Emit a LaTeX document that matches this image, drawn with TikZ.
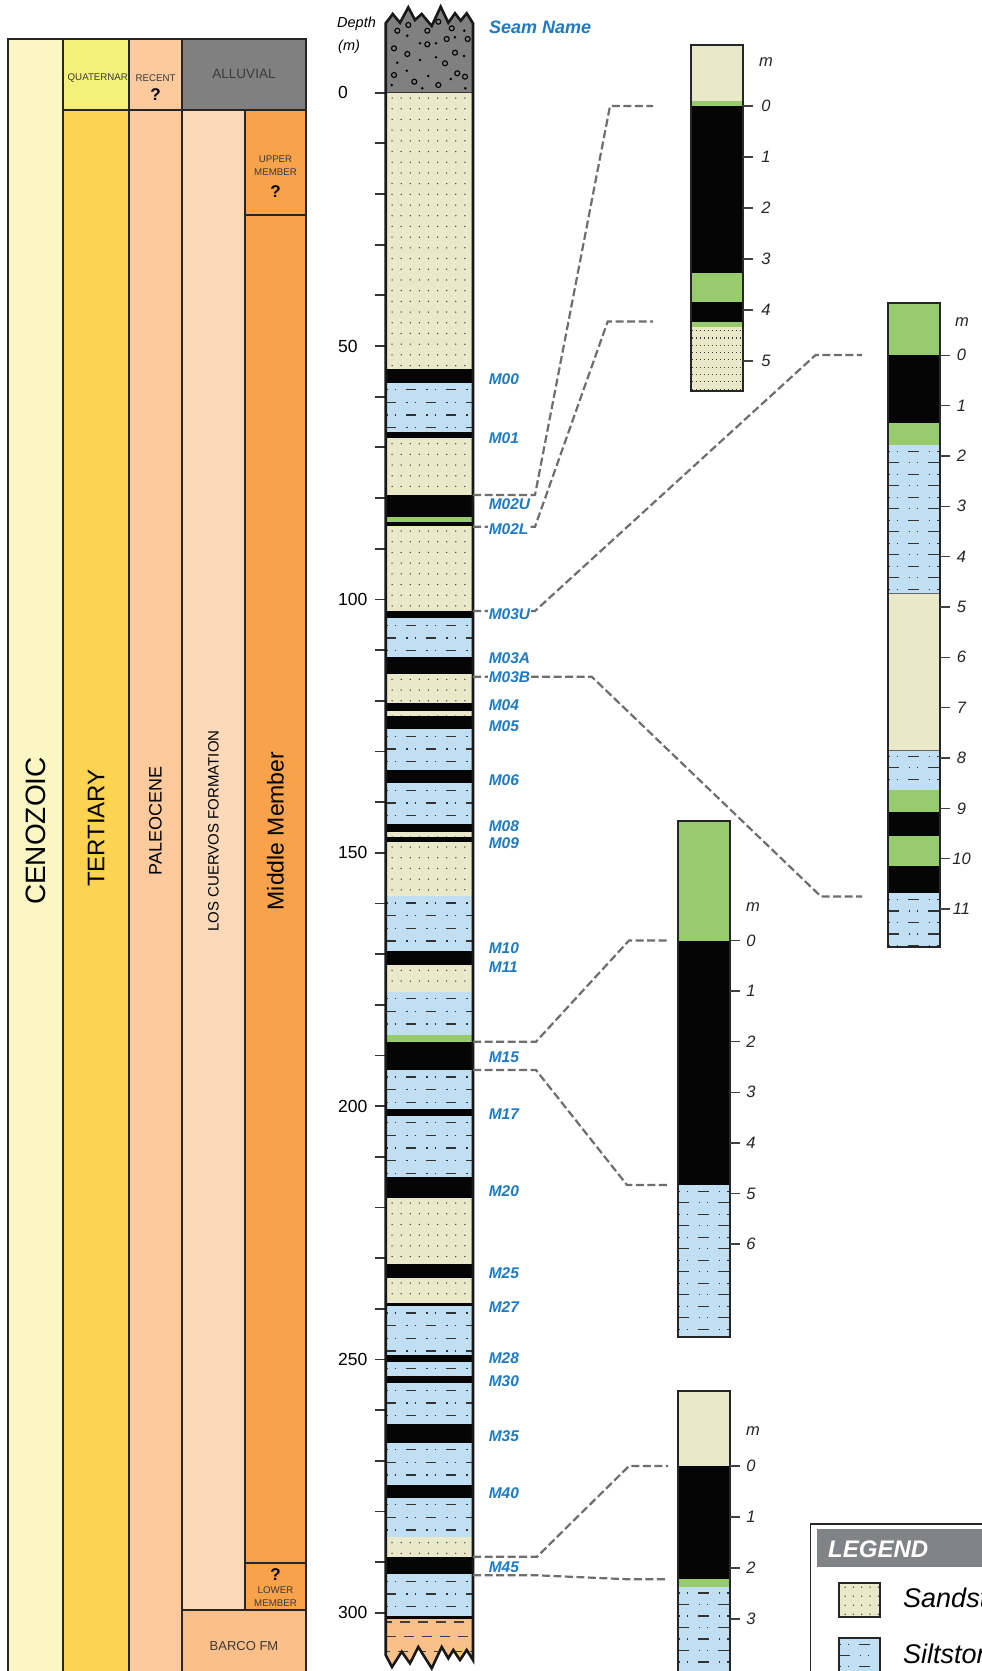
\documentclass[tikz,border=0pt]{standalone}
\usepackage{fontspec}
\setmainfont{Liberation Sans}
\setsansfont{Liberation Sans}

\definecolor{cenoz}{HTML}{FAF7C4}
\definecolor{quat}{HTML}{F5F07A}
\definecolor{tert}{HTML}{FDD452}
\definecolor{paleo}{HTML}{FCCA9C}
\definecolor{alluv}{HTML}{808080}
\definecolor{cuervos}{HTML}{FCD9B9}
\definecolor{member}{HTML}{F8A24C}
\definecolor{barco}{HTML}{FBC08A}
\definecolor{sandc}{HTML}{E9E8C8}
\definecolor{siltc}{HTML}{C1DFF3}
\definecolor{clayc}{HTML}{98CB6E}
\definecolor{coalc}{HTML}{050505}
\definecolor{conglc}{HTML}{808080}
\definecolor{barcoc}{HTML}{FAC08A}
\definecolor{seamblue}{HTML}{1F7AC2}
\definecolor{linkgray}{HTML}{6E6E6E}
\definecolor{legendhead}{HTML}{818386}
\definecolor{labelgray}{HTML}{3A3A3A}

\tikzset{
  unitbox/.style={draw=black!85, line width=1.6pt},
  colframe/.style={draw=black!90, line width=2.6pt, line join=miter},
  smallframe/.style={draw=black!85, line width=2.2pt},
  depthtick/.style={draw=black!80, line width=1.8pt},
  mtick/.style={draw=black!75, line width=1.3pt},
  link/.style={draw=linkgray, line width=2.2pt, dash pattern=on 8pt off 3.5pt},
  seamlab/.style={anchor=west, inner sep=0.6pt, text=seamblue, font=\bfseries\itshape\fontsize{15.5}{18}\selectfont},
  mlab/.style={inner sep=0pt, font=\itshape\fontsize{16.5}{19}\selectfont, text=black!85},
  depthlab/.style={anchor=west, inner sep=0pt, font=\fontsize{17.5}{20}\selectfont},
  siltmark/.style={draw=black!80, line width=1.3pt, dash pattern=on 10.5pt off 10pt on 1.3pt off 7pt on 1.3pt off 10pt},
  smalllab/.style={text=labelgray, inner sep=0pt, font=\fontsize{9.7}{12.4}\selectfont, align=center},
  qmark/.style={inner sep=0pt, font=\bfseries\fontsize{17}{20}\selectfont},
  bigrot/.style={rotate=90, inner sep=0pt},
  legtext/.style={anchor=west, inner sep=0pt, font=\itshape\fontsize{27}{31}\selectfont},
}

% sandstone: fill plus a regular grid of dots
\newcommand\sandfill[6]{%
  \fill[sandc] (#1,#2) rectangle (#3,#4);
  \begin{scope}
    \clip (#1,#2) rectangle (#3,#4);
    \pgfmathsetmacro\sya{#2+#6*0.5}\pgfmathsetmacro\syb{\sya+#6}
    \pgfmathsetmacro\sxa{#1+#5*0.7}\pgfmathsetmacro\sxb{\sxa+#5}
    \foreach \yy in {\sya,\syb,...,#4}{
      \foreach \xx in {\sxa,\sxb,...,#3}{\fill[black!75] (\xx,\yy) circle (0.75pt);}}
  \end{scope}}

% fine-grained sandstone: dense dotted rows
\newcommand\densesand[4]{%
  \fill[sandc] (#1,#2) rectangle (#3,#4);
  \begin{scope}
    \clip (#1,#2) rectangle (#3,#4);
    \pgfmathsetmacro\dya{#2+4}\pgfmathsetmacro\dyb{\dya+7.3}
    \foreach \yy in {\dya,\dyb,...,#4}{
      \draw[black!75, line width=1.1pt, dash pattern=on 1.1pt off 2.9pt] (#1+1.5,\yy) -- (#3,\yy);}
  \end{scope}}

% siltstone: fill plus rows of dash-dot marks
\newcommand\siltfill[5]{%
  \fill[siltc] (#1,#2) rectangle (#3,#4);
  \begin{scope}
    \clip (#1,#2) rectangle (#3,#4);
    \pgfmathsetmacro\tya{#2+#5*0.55}\pgfmathsetmacro\tyb{\tya+#5}
    \foreach \yy [count=\ii] in {\tya,\tyb,...,#4}{
      \pgfmathsetmacro\ph{mod(\ii,2)*20}
      \draw[siltmark, dash phase=\ph pt] (#1,\yy) -- (#3,\yy);}
  \end{scope}}

\begin{document}
\begin{tikzpicture}[x=1pt,y=-1pt]
\useasboundingbox (0,0) rectangle (982,1671);
\clip (0,0) rectangle (982,1671);
\fill[white] (0,0) rectangle (982,1671);

% ---------- chronostratigraphic units ----------
\draw[unitbox, fill=cenoz] (8,39) rectangle (63,1690);
\draw[unitbox, fill=quat] (63,39) rectangle (129,110);
\draw[unitbox, fill=tert] (63,110) rectangle (129,1690);
\draw[unitbox, fill=paleo] (129,39) rectangle (182,110);
\draw[unitbox, fill=paleo] (129,110) rectangle (182,1690);
\draw[unitbox, fill=alluv] (182,39) rectangle (306,110);
\draw[unitbox, fill=cuervos] (182,110) rectangle (245,1610);
\draw[unitbox, fill=member] (245,110) rectangle (306,215);
\draw[unitbox, fill=member] (245,215) rectangle (306,1563);
\draw[unitbox, fill=member] (245,1563) rectangle (306,1610);
\draw[unitbox, fill=barco] (182,1610) rectangle (306,1690);

\node[bigrot, font=\fontsize{28}{32}\selectfont] (cenozoic) at (35.5,831) {CENOZOIC};
\node[bigrot, font=\fontsize{24}{28}\selectfont] (tertiary) at (96,828) {TERTIARY};
\node[bigrot, font=\fontsize{18}{22}\selectfont] (paleocene) at (155.5,821) {PALEOCENE};
\node[bigrot, font=\fontsize{15}{18}\selectfont] (cuervos) at (213.5,831) {LOS CUERVOS FORMATION};
\node[bigrot, font=\fontsize{23}{27}\selectfont] (middle) at (275.5,831) {Middle Member};

\begin{scope}
  \clip (63.8,39) rectangle (128.2,110);
  \node[smalllab, anchor=west] (quaternary) at (67.5,78.3) {QUATERNARY};
\end{scope}
\node[smalllab] (recent) at (155.5,78.3) {RECENT};
\node[qmark] (recentq) at (155.5,95) {?};
\node[text=labelgray, inner sep=0pt, font=\fontsize{13.5}{16}\selectfont] (alluvial) at (244,74) {ALLUVIAL};
\node[smalllab] (upper) at (275.5,165.5) {UPPER\\MEMBER};
\node[qmark] (upperq) at (275.5,191.7) {?};
\node[qmark] (lowerq) at (275.5,1575) {?};
\node[smalllab] (lower) at (275.5,1596.6) {LOWER\\MEMBER};
\node[text=labelgray, inner sep=0pt, font=\fontsize{13}{16}\selectfont] (barcofm) at (244,1646) {BARCO FM};

% ---------- depth axis ----------
\foreach \k in {0,...,30}{\draw[depthtick] (375,{92.7+50.67*\k}) -- (386,{92.7+50.67*\k});}
\foreach \d in {0,50,...,300}{\node[depthlab] (depth\d) at (338,{92.7+5.067*\d}) {\d};}
\node[anchor=west, inner sep=0pt, font=\itshape\fontsize{14.5}{17}\selectfont] (depthword) at (337,23.3) {Depth};
\node[anchor=west, inner sep=0pt, font=\itshape\fontsize{14.5}{17}\selectfont] (depthunit) at (338,46.7) {(m)};
\node[anchor=west, inner sep=0pt, text=seamblue, font=\bfseries\itshape\fontsize{18}{21}\selectfont] (seamname) at (489,27) {Seam Name};

% ---------- main lithological column ----------
% conglomerate cap
\fill[conglc] (385.7,92.7) -- (385.7,23.3) -- (392.7,14) -- (400,22.7) -- (408.3,7.3) -- (415,20) -- (421.7,14) -- (431.7,26) -- (440.7,6.7) -- (448.3,22.7) -- (455,13.3) -- (460.7,20.7) -- (466.7,13.3) -- (473,23.3) -- (473,92.7) -- cycle;
\foreach \cx/\cy in {397.3/30.7, 408.3/25, 427.3/30.7, 427.3/44.3, 446.7/39, 467.7/39, 394/48.3, 407.3/54, 455/52.7, 445/63.3, 394/75, 414.3/81.7, 438.3/85, 457.3/73.3, 465/76.7, 438.3/21.7, 451.7/28.3}
  {\draw[black, line width=1.1pt] (\cx,\cy) circle (2.5pt);}
\foreach \cx/\cy in {407.3/35.7, 420/43.3, 436/43.3, 455/37.3, 464.3/30.7, 397.3/62.7, 420/60, 436/57.3, 464/56, 406.7/70.7, 428.3/76, 450.7/79, 391.7/85, 422.3/88.3, 465.3/88.3}
  {\fill[black] (\cx,\cy) circle (1.4pt);}

% coal background, other beds laid over it
\fill[coalc] (385.7,92.7) rectangle (473,1619);
\sandfill{385.7}{92.7}{473}{369}{9.1}{10.7}
\sandfill{385.7}{438.3}{473}{495}{9.1}{10.7}
\sandfill{385.7}{525.7}{473}{611}{9.1}{10.7}
\sandfill{385.7}{674}{473}{702.7}{9.1}{10.7}
\sandfill{385.7}{710.7}{473}{715.7}{9.1}{10.7}
\sandfill{385.7}{831.7}{473}{836.7}{9.1}{10.7}
\sandfill{385.7}{841.7}{473}{896}{9.1}{10.7}
\sandfill{385.7}{965}{473}{991.7}{9.1}{10.7}
\sandfill{385.7}{1197.7}{473}{1264}{9.1}{10.7}
\sandfill{385.7}{1277.7}{473}{1303.3}{9.1}{10.7}
\sandfill{385.7}{1537.3}{473}{1556.7}{9.1}{10.7}
\siltfill{385.7}{382.7}{473}{431.7}{12.7}
\siltfill{385.7}{618.3}{473}{657.3}{12.7}
\siltfill{385.7}{729.3}{473}{770}{12.7}
\siltfill{385.7}{783.3}{473}{824}{12.7}
\siltfill{385.7}{896}{473}{951}{12.7}
\siltfill{385.7}{991.7}{473}{1035}{12.7}
\siltfill{385.7}{1070}{473}{1109}{12.7}
\siltfill{385.7}{1115.7}{473}{1176.7}{12.7}
\siltfill{385.7}{1306}{473}{1355}{12.7}
\siltfill{385.7}{1361.7}{473}{1376}{12.7}
\siltfill{385.7}{1383.3}{473}{1424}{12.7}
\siltfill{385.7}{1442.7}{473}{1485}{12.7}
\siltfill{385.7}{1497.7}{473}{1537.3}{12.7}
\siltfill{385.7}{1574.3}{473}{1616}{12.7}
\fill[clayc] (385.7,516.7) rectangle (473,521.7);
\fill[clayc] (385.7,1035) rectangle (473,1041.7);
\draw[black!80, line width=0.8pt] (385.7,92.7) -- (473,92.7);

% Barco shale at the base
\def\barcopath{(385.7,1619) -- (473,1619) -- (473,1660) -- (466.7,1650) -- (460,1660) -- (453.3,1650) -- (448.3,1658.3) -- (441.7,1647) -- (431.7,1668.3) -- (418.3,1647) -- (410,1663.3) -- (401.7,1651.7) -- (392,1667) -- (385.7,1655) -- cycle}
\fill[barcoc] \barcopath;
\begin{scope}
  \clip \barcopath;
  \draw[black!75, line width=1.3pt, dash pattern=on 10pt off 8pt, dash phase=4pt] (385.7,1622) -- (473,1622);
  \draw[black!75, line width=1.3pt, dash pattern=on 10pt off 8pt] (385.7,1636.7) -- (473,1636.7);
  \draw[black!75, line width=1.3pt, dash pattern=on 10pt off 8pt, dash phase=6pt] (385.7,1651.7) -- (473,1651.7);
\end{scope}

\draw[colframe] (385.7,23.3) -- (392.7,14) -- (400,22.7) -- (408.3,7.3) -- (415,20) -- (421.7,14) -- (431.7,26) -- (440.7,6.7) -- (448.3,22.7) -- (455,13.3) -- (460.7,20.7) -- (466.7,13.3) -- (473,23.3)
  -- (473,1660) -- (466.7,1650) -- (460,1660) -- (453.3,1650) -- (448.3,1658.3) -- (441.7,1647) -- (431.7,1668.3) -- (418.3,1647) -- (410,1663.3) -- (401.7,1651.7) -- (392,1667) -- (385.7,1655) -- cycle;

% ---------- detail column: M02 ----------
\fill[sandc] (690.7,45) rectangle (743.3,100.7);
\fill[clayc] (690.7,100.7) rectangle (743.3,106);
\fill[coalc] (690.7,106) rectangle (743.3,273.3);
\fill[clayc] (690.7,273.3) rectangle (743.3,301.7);
\fill[coalc] (690.7,301.7) rectangle (743.3,321.7);
\fill[clayc] (690.7,321.7) rectangle (743.3,326.7);
\densesand{690.7}{326.7}{743.3}{391.3}
\draw[smallframe] (690.7,45) rectangle (743.3,391.3);
\foreach \k in {0,...,5}{
  \draw[mtick] (743.3,{106+51*\k}) -- (753,{106+51*\k});
  \node[mlab] (colA-\k) at (766,{106+51*\k}) {\k};}
\node[mlab] (colA-m) at (766,61.7) {m};

% ---------- detail column: M03 ----------
\fill[clayc] (888.3,302.6) rectangle (940,355.2);
\fill[coalc] (888.3,355.2) rectangle (940,422.6);
\fill[clayc] (888.3,422.6) rectangle (940,444.9);
\siltfill{888.3}{444.9}{940}{593}{11.5}
\fill[sandc] (888.3,593) rectangle (940,750);
\siltfill{888.3}{750}{940}{790}{11.5}
\fill[clayc] (888.3,790) rectangle (940,811.9);
\fill[coalc] (888.3,811.9) rectangle (940,835.9);
\fill[clayc] (888.3,835.9) rectangle (940,865.8);
\fill[coalc] (888.3,865.8) rectangle (940,893.1);
\siltfill{888.3}{893.1}{940}{946.6}{11.5}
\draw[black!60, line width=0.6pt] (888.3,593) -- (940,593) (888.3,750) -- (940,750);
\draw[smallframe] (888.3,302.6) rectangle (940,946.6);
\foreach \k in {0,...,11}{
  \draw[mtick] (940,{355.2+50.35*\k}) -- (950,{355.2+50.35*\k});
  \node[mlab] (colB-\k) at (961.5,{355.2+50.35*\k}) {\k};}
\node[mlab] (colB-m) at (962,321.6) {m};

% ---------- detail column: M15 ----------
\fill[clayc] (678.3,820.7) rectangle (730,940.5);
\fill[coalc] (678.3,940.5) rectangle (730,1185);
\siltfill{678.3}{1185}{730}{1337.3}{11.5}
\draw[smallframe] (678.3,820.7) rectangle (730,1337.3);
\foreach \k in {0,...,6}{
  \draw[mtick] (730,{940.5+50.6*\k}) -- (740,{940.5+50.6*\k});
  \node[mlab] (colC-\k) at (751,{940.5+50.6*\k}) {\k};}
\node[mlab] (colC-m) at (753,906.8) {m};

% ---------- detail column: M45 ----------
\fill[sandc] (678.3,1390.7) rectangle (730,1466);
\fill[coalc] (678.3,1466) rectangle (730,1579.3);
\fill[clayc] (678.3,1579.3) rectangle (730,1586.7);
\siltfill{678.3}{1586.7}{730}{1690}{11.5}
\draw[smallframe] (678.3,1390.7) rectangle (730,1690);
\foreach \k in {0,...,3}{
  \draw[mtick] (730,{1466+51*\k}) -- (740,{1466+51*\k});
  \node[mlab] (colD-\k) at (751,{1466+51*\k}) {\k};}
\node[mlab] (colD-m) at (753,1430.7) {m};

% ---------- correlation links ----------
\coordinate (m02u-out) at (473,495);
\coordinate (m02l-out) at (473,526.7);
\coordinate (m03u-out) at (473,611);
\coordinate (m03b-out) at (473,676.7);
\coordinate (m15t-out) at (473,1041.7);
\coordinate (m15b-out) at (473,1070);
\coordinate (m45t-out) at (473,1556.7);
\coordinate (m45b-out) at (473,1575.3);
\coordinate (colA-in0) at (653,106);
\coordinate (colA-in4) at (653,321.5);
\coordinate (colB-in0) at (862,355);
\coordinate (colB-in11) at (862,896.5);
\coordinate (colC-in0) at (668,940.5);
\coordinate (colC-in6) at (668,1185);
\coordinate (colD-in0) at (668,1466);
\coordinate (colD-in2) at (668,1579.3);

\draw[link] (m02u-out) -- (535,495) -- (610,106) -- (colA-in0);
\draw[link] (m02l-out) -- (535,526.7) -- (607.7,321.5) -- (colA-in4);
\draw[link] (m03u-out) -- (535,611) -- (815.6,355) -- (colB-in0);
\draw[link] (m03b-out) -- (591.7,676.7) -- (821,896.5) -- (colB-in11);
\draw[link] (m15t-out) -- (536,1041.7) -- (629,940.5) -- (colC-in0);
\draw[link] (m15b-out) -- (536,1070) -- (627,1185) -- (colC-in6);
\draw[link] (m45t-out) -- (537,1556.7) -- (629,1466) -- (colD-in0);
\draw[link] (m45b-out) -- (537,1575.3) -- (629,1579.3) -- (colD-in2);

% ---------- seam names ----------
\foreach \nm/\yy in {M00/379, M01/438.3, M02U/504, M03A/658.3, M04/705, M05/726, M06/780, M08/826, M09/842.7, M10/947.7, M11/966.7, M15/1057.3, M17/1114, M20/1190.7, M25/1273.3, M27/1306.7, M28/1357.7, M30/1380.7, M35/1436, M40/1492.7, M45/1567.7}
  {\node[seamlab] (seam-\nm) at (488,\yy) {\nm};}
\foreach \nm/\yy in {M02L/529, M03U/614, M03B/676.7}
  {\node[seamlab, fill=white] (seam-\nm) at (488,\yy) {\nm};}

% ---------- legend ----------
\draw[black!85, line width=1.5pt] (810.7,1524) rectangle (1000,1700);
\fill[legendhead] (816.7,1529.3) rectangle (1000,1566.7);
\node[anchor=west, inner sep=0pt, text=white, font=\bfseries\itshape\fontsize{24}{28}\selectfont] (legendtitle) at (828,1549) {LEGEND};
\sandfill{839.3}{1582.7}{880}{1616.7}{8.3}{9}
\draw[black!85, line width=1.8pt] (839.3,1582.7) rectangle (880,1616.7);
\node[legtext] (legsand) at (903,1598) {Sandstone};
\siltfill{839.3}{1638.3}{880}{1690}{11}
\draw[black!85, line width=1.8pt] (839.3,1638.3) rectangle (880,1690);
\node[legtext] (legsilt) at (903,1654) {Siltstone};
\end{tikzpicture}
\end{document}
